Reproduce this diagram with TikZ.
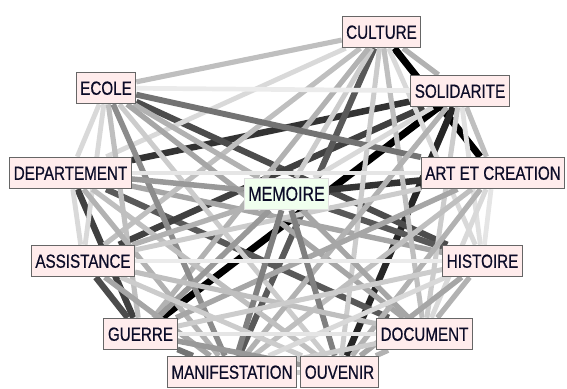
\documentclass[tikz,border=0pt]{standalone}
\usepackage{fontspec}
\newfontfamily\labelfont[FakeStretch=0.8,FakeBold=0.6]{Liberation Sans}
\usetikzlibrary{positioning}
\pgfdeclarelayer{background}
\pgfsetlayers{background,main}
\definecolor{termfill}{RGB}{255,236,236}
\definecolor{corefill}{RGB}{240,255,238}
\definecolor{termink}{RGB}{12,12,40}
\tikzset{
  term/.style={draw=black!60, line width=1pt, fill=termfill, text=termink,
    font=\labelfont\fontsize{19}{19}\selectfont, inner xsep=4pt, inner ysep=9pt,
    text height=13.5pt, text depth=0pt},
  core/.style={term, draw=black!12, fill=corefill, font=\labelfont\fontsize{20}{20}\selectfont},
}
\begin{document}
\begin{tikzpicture}[x=1pt, y=-1pt]
\useasboundingbox (0,0) rectangle (567,388);
\clip (0,0) rectangle (567,388);

% the terms
\node[term] (cu) at (381.5,32) {CULTURE};
\node[term] (ec) at (106,88) {ECOLE};
\node[term] (so) at (460,91) {SOLIDARITE};
\node[term] (de) at (70.5,173) {DEPARTEMENT};
\node[term] (ar) at (493,173) {ART ET CREATION};
\node[core] (me) at (286.5,194) {MEMOIRE};
\node[term] (as) at (83,261) {ASSISTANCE};
\node[term] (hi) at (482.5,261) {HISTOIRE};
\node[term] (gu) at (140.5,334) {GUERRE};
\node[term] (do) at (424.5,334) {DOCUMENT};
\node[term] (sv) at (339.5,372) {OUVENIR};
\node[term] (ma) at (232,372) {MANIFESTATION};

% the links, gray level = weight
\begin{pgfonlayer}{background}
\foreach \a/\b/\g in {
  cu/ar/100, so/gu/100, so/de/80, so/sv/85, de/gu/75, as/gu/70,
  de/do/65, ec/hi/70, so/as/75, me/hi/65, cu/ma/65, ar/me/80, de/hi/35,
  cu/ec/25, cu/so/30, cu/de/15, cu/me/20, cu/as/25, cu/hi/15,
  cu/gu/30, cu/do/25, cu/sv/20, ec/so/8, ec/de/15, ec/ar/55,
  ec/me/30, ec/as/15, ec/gu/25, ec/do/35, ec/ma/45, ec/sv/20,
  so/ar/25, so/me/15, so/hi/12, so/do/20, so/ma/30,
  de/ar/10, de/me/40, de/as/15, de/ma/30, de/sv/25,
  ar/as/20, ar/hi/10, ar/gu/35, ar/do/15, ar/ma/25, ar/sv/30,
  me/as/30, me/gu/40, me/do/35, me/ma/50, me/sv/50,
  as/hi/8, as/do/25, as/ma/35, as/sv/20,
  hi/gu/20, hi/do/30, hi/ma/15, hi/sv/35,
  gu/do/10, gu/ma/55, gu/sv/40, do/ma/20, do/sv/30, ma/sv/20}
{
  \pgfmathsetmacro{\w}{4.5+\g/40}
  \draw[line width=\w pt, black!\g] (\a) -- (\b);
}
\end{pgfonlayer}
\end{tikzpicture}
\end{document}
